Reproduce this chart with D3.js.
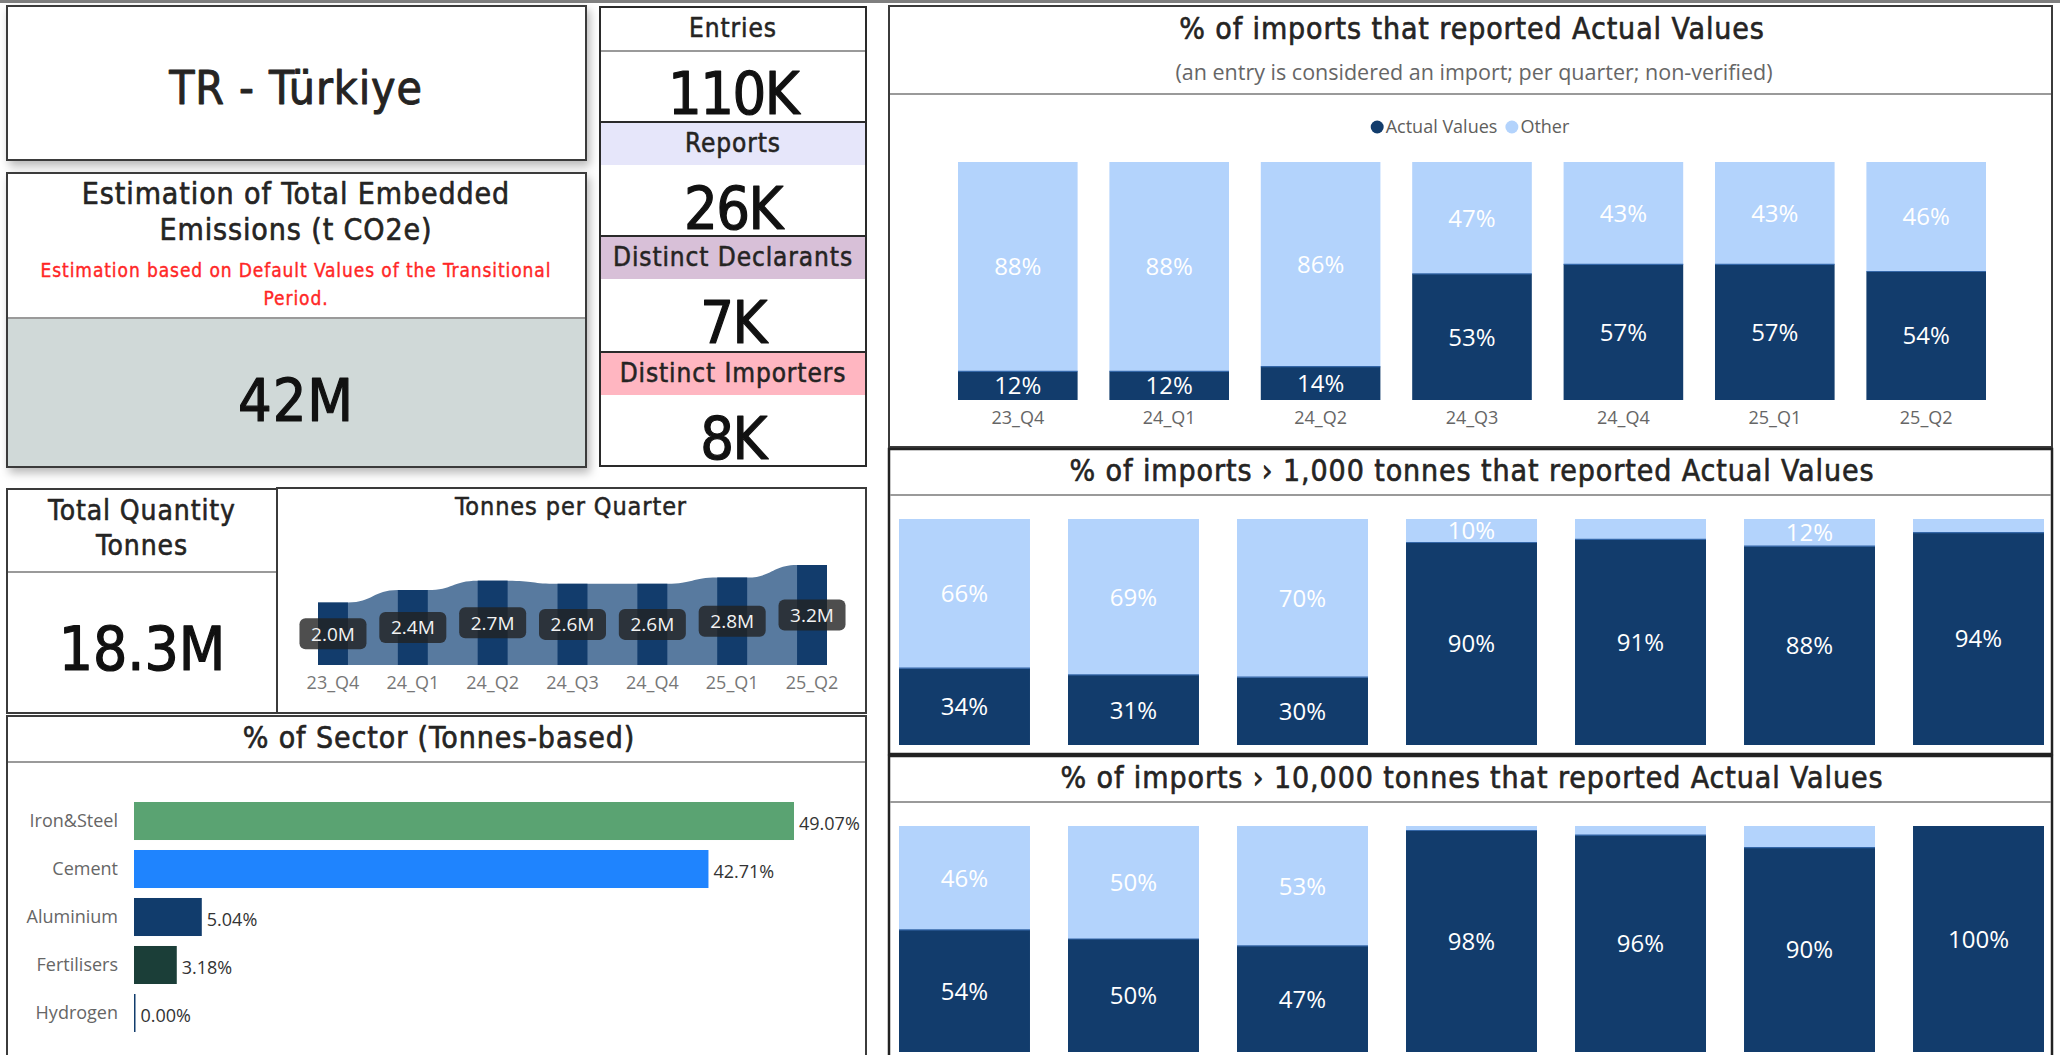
<!DOCTYPE html>
<html>
<head>
<meta charset="utf-8">
<script src="https://cdn.jsdelivr.net/npm/d3@7"></script>
<style>
  html, body { margin: 0; padding: 0; background: #fff; overflow: hidden; }
  svg { display: block; }
  .din { font-family: 'DejaVu Sans Condensed', 'DejaVu Sans', sans-serif; font-stretch: condensed; letter-spacing: 0.9px; }
  .ui  { font-family: 'Segoe UI', 'Open Sans', 'Noto Sans', sans-serif; }
</style>
</head>
<body>
<svg id="board" width="2060" height="1055"></svg>
<script>
// ---- data ---------------------------------------------------------------
const country = "TR - Türkiye";
const emissionsTotal = "42M";
const kpiLabels = ["Entries", "Reports", "Distinct Declarants", "Distinct Importers"];
const kpiValues = ["110K", "26K", "7K", "8K"];
const totalTonnes = "18.3M";

const quarters = ["23_Q4", "24_Q1", "24_Q2", "24_Q3", "24_Q4", "25_Q1", "25_Q2"];
const tonnesM = [2.0, 2.4, 2.7, 2.6, 2.6, 2.8, 3.2];

const sectors = ["Iron&Steel", "Cement", "Aluminium", "Fertilisers", "Hydrogen"];
const sectorShare = [49.07, 42.71, 5.04, 3.18, 0.00];

// share of imports reporting actual values (%), the rest is "Other"
const actualAll = [12, 12, 14, 53, 57, 57, 54];
const actualOver1k = [34, 31, 30, 89.6, 91, 88, 94];
const actualOver10k = [54, 50, 47, 98, 96, 90.4, 100];

// ---- styling ------------------------------------------------------------
const NAVY = "#123c6c", LIGHT = "#b3d3fc", EDGE = "#3467a8";
const sectorColors = ["#5aa372", "#1f84fe", "#113c6c", "#1b3e38", "#113c6c"];
const TITLE = "#252423", AXIS = "#666666";

const svg = d3.select("#board");
const defs = svg.append("defs");
defs.append("filter").attr("id", "shadow")
  .attr("x", "-5%").attr("y", "-5%").attr("width", "115%").attr("height", "125%")
  .append("feDropShadow")
  .attr("dx", 3).attr("dy", 5).attr("stdDeviation", 5)
  .attr("flood-color", "#000").attr("flood-opacity", 0.28);

function box(x, y, w, h, fill, opts = {}) {
  const r = svg.append("rect")
    .attr("x", x).attr("y", y).attr("width", w).attr("height", h)
    .attr("fill", fill || "#fff")
    .attr("stroke", opts.stroke || "#3b3b3b")
    .attr("stroke-width", opts.sw || 2);
  if (opts.shadow) r.attr("filter", "url(#shadow)");
  return r;
}
function rule(x1, x2, y, color, w) {
  svg.append("line").attr("x1", x1).attr("x2", x2).attr("y1", y).attr("y2", y)
    .attr("stroke", color).attr("stroke-width", w);
}
function label(parent, x, y, str, cls, size, color, anchor = "middle") {
  const t = parent.append("text").attr("class", cls)
    .attr("x", x).attr("y", y).attr("dy", "0.36em")
    .attr("font-size", size).attr("fill", color)
    .attr("text-anchor", anchor).text(str);
  // heavier strokes for the display face
  if (cls === "din") t.attr("stroke", color).attr("stroke-width", size * 0.02).attr("stroke-linejoin", "round");
  return t;
}

// top rule of the page
svg.append("rect").attr("x", 0).attr("y", 0).attr("width", 2060).attr("height", 3).attr("fill", "#7f7f7f");

// ---- country card -------------------------------------------------------
box(7, 6, 579, 154, "#fff", { shadow: true });
label(svg, 296, 87, country, "din", 46, TITLE);

// ---- emissions card -----------------------------------------------------
box(7, 173, 579, 294, "#fff", { shadow: true });
svg.append("rect").attr("x", 8).attr("y", 318).attr("width", 577).attr("height", 148).attr("fill", "#d0d9d8");
rule(8, 585, 318, "#9a9a9a", 2);
label(svg, 296, 193, "Estimation of Total Embedded", "din", 30, TITLE);
label(svg, 296, 229, "Emissions (t CO2e)", "din", 30, TITLE);
label(svg, 296, 270, "Estimation based on Default Values of the Transitional", "din", 19, "#ff2626");
label(svg, 296, 298, "Period.", "din", 19, "#ff2626");
label(svg, 296, 400, emissionsTotal, "din", 59, "#111");

// ---- KPI stack ----------------------------------------------------------
const kpiTop = [7, 122, 236, 352], kpiBottom = 466;
const kpiFill = ["#ffffff", "#e6e6fa", "#d8c0d8", "#ffb6c1"];
kpiLabels.forEach((name, i) => {
  const y0 = kpiTop[i], y1 = i < 3 ? kpiTop[i + 1] : kpiBottom;
  box(600, y0, 266, y1 - y0, "#fff", { stroke: "#2a2a2a", sw: 2 });
  svg.append("rect").attr("x", 601).attr("y", y0 + 1).attr("width", 264).attr("height", 42).attr("fill", kpiFill[i]);
  if (i === 0) rule(601, 865, y0 + 44, "#9a9a9a", 2);
  label(svg, 733, y0 + 21, name, "din", 26, TITLE);
  label(svg, 733, y0 + 86, kpiValues[i], "din", 59, "#111").style("letter-spacing", "-1.5px");
});

// ---- total quantity card ------------------------------------------------
box(7, 489, 270, 224, "#fff");
rule(8, 276, 572, "#9a9a9a", 2);
label(svg, 142, 510, "Total Quantity", "din", 28, TITLE);
label(svg, 142, 545, "Tonnes", "din", 28, TITLE);
label(svg, 142, 648, totalTonnes, "din", 60, "#111").style("letter-spacing", "0px");

// ---- tonnes per quarter -------------------------------------------------
box(277, 488, 589, 225, "#fff");
label(svg, 571, 506, "Tonnes per Quarter", "din", 25, TITLE);
{
  const g = svg.append("g");
  const x = d3.scaleBand().domain(quarters).range([318, 827]).paddingInner(0.625).paddingOuter(0);
  const y = d3.scaleLinear().domain([0, 4.32]).range([665, 530]);
  const pts = quarters.flatMap((q, i) => [
    { x: x(q), v: tonnesM[i] },
    { x: x(q) + x.bandwidth(), v: tonnesM[i] }
  ]);
  g.append("path").datum(pts)
    .attr("fill", "#587a9f")
    .attr("d", d3.area().x(d => d.x).y0(y(0)).y1(d => y(d.v)).curve(d3.curveBumpX));
  g.selectAll("rect.bar").data(quarters).join("rect").attr("class", "bar")
    .attr("x", q => x(q)).attr("width", x.bandwidth())
    .attr("y", (q, i) => y(tonnesM[i])).attr("height", (q, i) => y(0) - y(tonnesM[i]))
    .attr("fill", NAVY);
  const tags = g.selectAll("g.tag").data(quarters).join("g").attr("class", "tag")
    .attr("transform", (q, i) => `translate(${x(q) + x.bandwidth() / 2},${y(tonnesM[i] / 2)})`);
  tags.append("rect").attr("x", -33.5).attr("y", -15.5).attr("width", 67).attr("height", 31)
    .attr("rx", 6).attr("fill", "#222").attr("fill-opacity", 0.8);
  tags.append("text").attr("class", "ui").attr("text-anchor", "middle").attr("dy", "0.36em")
    .attr("font-size", 19).attr("fill", "#f2f2f2")
    .text((q, i) => d3.format(".1f")(tonnesM[i]) + "M");
  const ax = g.append("g").attr("transform", "translate(0,672)")
    .call(d3.axisBottom(x).tickSize(0).tickPadding(4));
  ax.select(".domain").remove();
  ax.selectAll("text").attr("class", "ui").attr("font-size", 18).attr("fill", "#777");
}

// ---- sector shares ------------------------------------------------------
box(7, 716, 859, 360, "#fff");
rule(8, 865, 762, "#9a9a9a", 2);
label(svg, 439, 737, "% of Sector (Tonnes-based)", "din", 30, TITLE);
{
  const g = svg.append("g");
  const y = d3.scaleBand().domain(sectors).range([802, 1032]).paddingInner(0.208).paddingOuter(0);
  const x = d3.scaleLinear().domain([0, 49.07]).range([134, 794]);
  g.selectAll("rect").data(sectors).join("rect")
    .attr("x", x(0)).attr("y", s => y(s)).attr("height", y.bandwidth())
    .attr("width", (s, i) => Math.max(x(sectorShare[i]) - x(0), 1.5))
    .attr("fill", (s, i) => sectorColors[i]);
  g.selectAll("text.val").data(sectors).join("text").attr("class", "val ui")
    .attr("x", (s, i) => Math.max(x(sectorShare[i]), x(0) + 1.5) + 5)
    .attr("y", s => y(s) + y.bandwidth() / 2 + 3).attr("dy", "0.36em")
    .attr("font-size", 18).attr("fill", "#333")
    .text((s, i) => d3.format(".2f")(sectorShare[i]) + "%");
  const ax = g.append("g").attr("transform", `translate(${x(0)},0)`)
    .call(d3.axisLeft(y).tickSize(0).tickPadding(16));
  ax.select(".domain").remove();
  ax.selectAll("text").attr("class", "ui").attr("font-size", 18).attr("fill", AXIS);
}

// ---- stacked share charts -----------------------------------------------
function stacked(actual, cfg) {
  const g = svg.append("g");
  const x = d3.scaleBand().domain(quarters).range(cfg.xr).paddingInner(cfg.pad).paddingOuter(0);
  const y = d3.scaleLinear().domain([0, 100]).range([cfg.bottom, cfg.top]);
  const rows = quarters.map((q, i) => ({ q, actual: actual[i], other: 100 - actual[i] }));
  const series = d3.stack().keys(["actual", "other"])(rows);
  const layer = g.selectAll("g.layer").data(series).join("g").attr("class", "layer")
    .attr("fill", s => s.key === "actual" ? NAVY : LIGHT);
  layer.selectAll("rect").data(s => s).join("rect")
    .attr("x", d => x(d.data.q)).attr("width", x.bandwidth())
    .attr("y", d => y(d[1])).attr("height", d => y(d[0]) - y(d[1]));
  // seam between the two segments
  g.selectAll("line.seam").data(rows.filter(r => r.actual > 0 && r.other > 0)).join("line")
    .attr("class", "seam")
    .attr("x1", r => x(r.q)).attr("x2", r => x(r.q) + x.bandwidth())
    .attr("y1", r => y(r.actual)).attr("y2", r => y(r.actual))
    .attr("stroke", EDGE).attr("stroke-width", 1.2);
  // value labels, shown where the segment is wide enough
  series.forEach(s => {
    g.selectAll(null).data(s.filter(d => d[1] - d[0] >= 10)).join("text")
      .attr("class", "ui").attr("text-anchor", "middle").attr("dy", "0.36em")
      .attr("x", d => x(d.data.q) + x.bandwidth() / 2)
      .attr("y", d => y((d[0] + d[1]) / 2))
      .attr("font-size", 24).attr("fill", "#ffffff")
      .text(d => d3.format(".0f")(d[1] - d[0]) + "%");
  });
  if (cfg.axis) {
    const ax = g.append("g").attr("transform", `translate(0,${cfg.bottom + 9})`)
      .call(d3.axisBottom(x).tickSize(0).tickPadding(2));
    ax.select(".domain").remove();
    ax.selectAll("text").attr("class", "ui").attr("font-size", 18).attr("fill", AXIS);
  }
}

// chart 1: all imports
box(889, 6, 1163, 441, "#fff");
rule(890, 2051, 94, "#9a9a9a", 2);
label(svg, 1472, 28, "% of imports that reported Actual Values", "din", 30, TITLE);
label(svg, 1474, 72, "(an entry is considered an import; per quarter; non-verified)", "ui", 21.5, "#666");
{
  const items = [{ name: "Actual Values", color: NAVY }, { name: "Other", color: LIGHT }];
  const lg = svg.append("g");
  let cx = 0;
  items.forEach(it => {
    const gi = lg.append("g").attr("transform", `translate(${cx},0)`);
    gi.append("circle").attr("cx", 6.5).attr("cy", 0).attr("r", 6.5).attr("fill", it.color);
    const t = gi.append("text").attr("class", "ui").attr("x", 15).attr("dy", "0.36em")
      .attr("font-size", 18).attr("fill", "#605e5c").text(it.name);
    cx += 15 + t.node().getComputedTextLength() + 8;
  });
  lg.attr("transform", `translate(${1470 - (cx - 8) / 2},127)`);
}
stacked(actualAll, { xr: [958, 1986], pad: 0.21, top: 162, bottom: 400, axis: true });

// chart 2: imports above 1,000 tonnes
box(889, 449, 1163, 305, "#fff", { stroke: "#222", sw: 2.5 });
rule(890, 2051, 495, "#9a9a9a", 2);
label(svg, 1472, 470, "% of imports › 1,000 tonnes that reported Actual Values", "din", 30, TITLE);
stacked(actualOver1k, { xr: [899, 2044], pad: 0.225, top: 519, bottom: 745, axis: false });

// chart 3: imports above 10,000 tonnes
box(889, 756, 1163, 320, "#fff", { stroke: "#222", sw: 2.5 });
rule(890, 2051, 802, "#9a9a9a", 2);
label(svg, 1472, 777, "% of imports › 10,000 tonnes that reported Actual Values", "din", 30, TITLE);
stacked(actualOver10k, { xr: [899, 2044], pad: 0.225, top: 826, bottom: 1052, axis: false });
</script>
</body>
</html>
